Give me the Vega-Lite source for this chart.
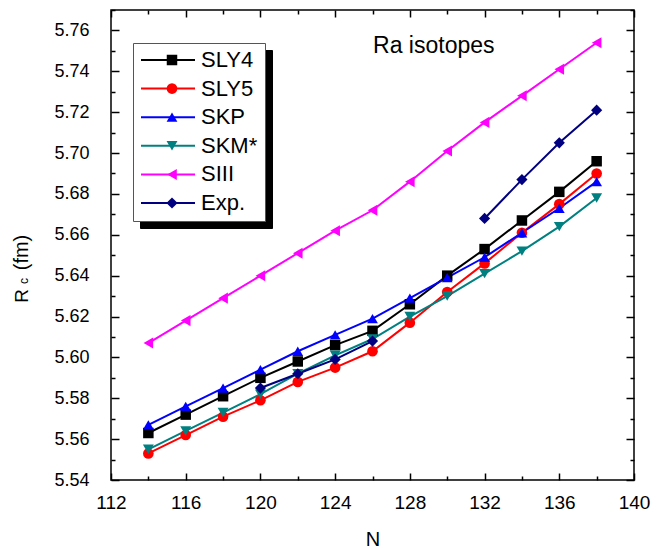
{
  "$schema": "https://vega.github.io/schema/vega-lite/v6.json",
  "width": 523,
  "height": 470,
  "autosize": "none",
  "padding": {"left": 111, "top": 10, "right": 24, "bottom": 69},
  "background": "white",
  "config": {
    "font": "Liberation Sans",
    "view": {"stroke": "black", "strokeWidth": 1.5},
    "axis": {"domain": false, "grid": false, "tickColor": "black", "tickWidth": 1.5, "labelColor": "black", "titleColor": "black", "labelFont": "Liberation Sans", "titleFont": "Liberation Sans", "titleFontWeight": "normal"}
  },
  "data": {"values": [
    {"N": 114, "model": "SLY4", "Rc": 5.563}, {"N": 116, "model": "SLY4", "Rc": 5.572}, {"N": 118, "model": "SLY4", "Rc": 5.581}, {"N": 120, "model": "SLY4", "Rc": 5.590}, {"N": 122, "model": "SLY4", "Rc": 5.598}, {"N": 124, "model": "SLY4", "Rc": 5.606}, {"N": 126, "model": "SLY4", "Rc": 5.613}, {"N": 128, "model": "SLY4", "Rc": 5.626}, {"N": 130, "model": "SLY4", "Rc": 5.640}, {"N": 132, "model": "SLY4", "Rc": 5.653}, {"N": 134, "model": "SLY4", "Rc": 5.667}, {"N": 136, "model": "SLY4", "Rc": 5.681}, {"N": 138, "model": "SLY4", "Rc": 5.696},
    {"N": 114, "model": "SLY5", "Rc": 5.553}, {"N": 116, "model": "SLY5", "Rc": 5.562}, {"N": 118, "model": "SLY5", "Rc": 5.571}, {"N": 120, "model": "SLY5", "Rc": 5.579}, {"N": 122, "model": "SLY5", "Rc": 5.588}, {"N": 124, "model": "SLY5", "Rc": 5.595}, {"N": 126, "model": "SLY5", "Rc": 5.603}, {"N": 128, "model": "SLY5", "Rc": 5.617}, {"N": 130, "model": "SLY5", "Rc": 5.632}, {"N": 132, "model": "SLY5", "Rc": 5.646}, {"N": 134, "model": "SLY5", "Rc": 5.661}, {"N": 136, "model": "SLY5", "Rc": 5.675}, {"N": 138, "model": "SLY5", "Rc": 5.690},
    {"N": 114, "model": "SKP", "Rc": 5.567}, {"N": 116, "model": "SKP", "Rc": 5.576}, {"N": 118, "model": "SKP", "Rc": 5.585}, {"N": 120, "model": "SKP", "Rc": 5.594}, {"N": 122, "model": "SKP", "Rc": 5.603}, {"N": 124, "model": "SKP", "Rc": 5.611}, {"N": 126, "model": "SKP", "Rc": 5.619}, {"N": 128, "model": "SKP", "Rc": 5.629}, {"N": 130, "model": "SKP", "Rc": 5.639}, {"N": 132, "model": "SKP", "Rc": 5.649}, {"N": 134, "model": "SKP", "Rc": 5.661}, {"N": 136, "model": "SKP", "Rc": 5.673}, {"N": 138, "model": "SKP", "Rc": 5.686},
    {"N": 114, "model": "SKM*", "Rc": 5.555}, {"N": 116, "model": "SKM*", "Rc": 5.564}, {"N": 118, "model": "SKM*", "Rc": 5.573}, {"N": 120, "model": "SKM*", "Rc": 5.582}, {"N": 122, "model": "SKM*", "Rc": 5.592}, {"N": 124, "model": "SKM*", "Rc": 5.601}, {"N": 126, "model": "SKM*", "Rc": 5.609}, {"N": 128, "model": "SKM*", "Rc": 5.620}, {"N": 130, "model": "SKM*", "Rc": 5.630}, {"N": 132, "model": "SKM*", "Rc": 5.641}, {"N": 134, "model": "SKM*", "Rc": 5.652}, {"N": 136, "model": "SKM*", "Rc": 5.664}, {"N": 138, "model": "SKM*", "Rc": 5.678},
    {"N": 114, "model": "SIII", "Rc": 5.607}, {"N": 116, "model": "SIII", "Rc": 5.618}, {"N": 118, "model": "SIII", "Rc": 5.629}, {"N": 120, "model": "SIII", "Rc": 5.640}, {"N": 122, "model": "SIII", "Rc": 5.651}, {"N": 124, "model": "SIII", "Rc": 5.662}, {"N": 126, "model": "SIII", "Rc": 5.672}, {"N": 128, "model": "SIII", "Rc": 5.686}, {"N": 130, "model": "SIII", "Rc": 5.701}, {"N": 132, "model": "SIII", "Rc": 5.715}, {"N": 134, "model": "SIII", "Rc": 5.728}, {"N": 136, "model": "SIII", "Rc": 5.741}, {"N": 138, "model": "SIII", "Rc": 5.754},
    {"N": 120, "model": "Exp.", "Rc": 5.585}, {"N": 122, "model": "Exp.", "Rc": 5.592}, {"N": 124, "model": "Exp.", "Rc": 5.599}, {"N": 126, "model": "Exp.", "Rc": 5.608}, {"N": 128, "model": "Exp.", "Rc": null}, {"N": 132, "model": "Exp.", "Rc": 5.668}, {"N": 134, "model": "Exp.", "Rc": 5.687}, {"N": 136, "model": "Exp.", "Rc": 5.705}, {"N": 138, "model": "Exp.", "Rc": 5.721}
  ]},
  "resolve": {"axis": {"x": "independent", "y": "independent"}},
  "layer": [
    {
      "transform": [{"filter": "false"}],
      "mark": {"type": "point"},
      "encoding": {
        "strokeDash": {"field": "model", "type": "nominal",
          "scale": {"domain": ["Exp.", "SIII", "SKM*", "SKP", "SLY4", "SLY5"], "range": [[1, 0], [1, 0], [1, 0], [1, 0], [1, 0], [1, 0]]},
          "legend": {"orient": "none", "legendX": 29, "legendY": 40, "title": null, "fillColor": "black", "strokeColor": "black",
            "padding": 7, "symbolType": "stroke", "symbolSize": 2916, "symbolStrokeWidth": 2, "symbolStrokeColor": "black", "symbolOffset": 0,
            "clipHeight": 20, "rowPadding": 6.6,
            "labelOffset": 5, "labelFontSize": 22, "labelColor": "black", "labelFont": "Liberation Sans", "labelLimit": 300}}
      }
    },
    {
      "mark": {"type": "line", "strokeWidth": 2, "invalid": "break-paths-filter-domains"},
      "encoding": {
        "x": {"field": "N", "type": "quantitative", "scale": {"domain": [112, 140], "nice": false, "zero": false},
          "axis": {"orient": "bottom", "values": [112, 116, 120, 124, 128, 132, 136, 140],
            "tickSize": -7,
            "labelFontSize": 19, "labelPadding": 20, "labelFlush": false, "labelOverlap": false,
            "title": "N", "titleFontSize": 20, "titlePadding": 17}},
        "y": {"field": "Rc", "type": "quantitative", "scale": {"domain": [5.54, 5.77], "nice": false, "zero": false},
          "axis": {"orient": "left", "values": [5.54, 5.56, 5.58, 5.60, 5.62, 5.64, 5.66, 5.68, 5.70, 5.72, 5.74, 5.76],
            "format": ".2f", "tickSize": -8,
            "labelFontSize": 18, "labelPadding": 30, "labelFlush": false, "labelOverlap": false,
            "title": "R", "titleFontSize": 19, "titleX": -84, "titleY": 285.5, "titleAngle": 270, "titleAlign": "center", "titleBaseline": "alphabetic"}},
        "stroke": {"field": "model", "type": "nominal",
          "scale": {"domain": ["SLY4", "SLY5", "SKP", "SKM*", "SIII", "Exp.", "_"], "range": ["#000000", "#FF0000", "#0000FF", "#008080", "#FF00FF", "#000080", "#000000"]},
          "legend": {"orient": "none", "legendX": 22, "legendY": 33, "title": null, "fillColor": "white", "strokeColor": "#555555",
            "values": ["SLY4", "SLY5", "SKP", "SKM*", "SIII", "Exp."],
            "padding": 7, "symbolType": "stroke", "symbolSize": 2916, "symbolStrokeWidth": 2, "symbolOffset": 0,
            "clipHeight": 20, "rowPadding": 6.6,
            "labelOffset": 5, "labelFontSize": 22, "labelColor": "black", "labelFont": "Liberation Sans", "labelLimit": 300}}
      }
    },
    {
      "mark": {"type": "point", "filled": true, "opacity": 1, "strokeWidth": 0},
      "encoding": {
        "x": {"field": "N", "type": "quantitative", "scale": {"domain": [112, 140], "nice": false, "zero": false}, "axis": null},
        "y": {"field": "Rc", "type": "quantitative", "scale": {"domain": [5.54, 5.77], "nice": false, "zero": false}, "axis": null},
        "fill": {"field": "model", "type": "nominal",
          "scale": {"domain": ["SLY4", "SLY5", "SKP", "SKM*", "SIII", "Exp."], "range": ["#000000", "#FF0000", "#0000FF", "#008080", "#FF00FF", "#000080"]},
          "legend": {"orient": "none", "legendX": 22, "legendY": 33, "title": null,
            "padding": 7, "symbolStrokeWidth": 0, "symbolOffset": 21, "symbolOpacity": 1,
            "clipHeight": 20, "rowPadding": 6.6,
            "labelOffset": 5, "labelFontSize": 22, "labelOpacity": 0, "labelFont": "Liberation Sans", "labelLimit": 300}},
        "shape": {"field": "model", "type": "nominal",
          "scale": {"domain": ["SLY4", "SLY5", "SKP", "SKM*", "SIII", "Exp."], "range": ["square", "circle", "triangle-up", "triangle-down", "triangle-left", "diamond"]}},
        "size": {"field": "model", "type": "nominal",
          "scale": {"domain": ["SLY4", "SLY5", "SKP", "SKM*", "SIII", "Exp."], "range": [110, 125, 180, 180, 180, 150]}}
      }
    },
    {
      "transform": [{"filter": "false"}],
      "mark": {"type": "point"},
      "encoding": {
        "x": {"field": "N", "type": "quantitative", "scale": {"domain": [112, 140], "nice": false, "zero": false},
          "axis": {"orient": "bottom", "values": [114, 118, 122, 126, 130, 134, 138], "labels": false, "title": null, "tickSize": -4}},
        "y": {"field": "Rc", "type": "quantitative", "scale": {"domain": [5.54, 5.77], "nice": false, "zero": false},
          "axis": {"orient": "left", "values": [5.55, 5.57, 5.59, 5.61, 5.63, 5.65, 5.67, 5.69, 5.71, 5.73, 5.75, 5.77], "labels": false, "tickSize": -4,
            "title": "(fm)", "titleFontSize": 20, "titleX": -84, "titleY": 242, "titleAngle": 270, "titleAlign": "center", "titleBaseline": "alphabetic"}}
      }
    },
    {
      "transform": [{"filter": "false"}],
      "mark": {"type": "point"},
      "encoding": {
        "x": {"field": "N", "type": "quantitative", "scale": {"domain": [112, 140], "nice": false, "zero": false},
          "axis": {"orient": "top", "values": [112, 116, 120, 124, 128, 132, 136, 140], "labels": false, "title": null, "tickSize": -7}},
        "y": {"field": "Rc", "type": "quantitative", "scale": {"domain": [5.54, 5.77], "nice": false, "zero": false},
          "axis": {"orient": "right", "values": [5.54, 5.56, 5.58, 5.60, 5.62, 5.64, 5.66, 5.68, 5.70, 5.72, 5.74, 5.76], "labels": false, "title": null, "tickSize": -8}}
      }
    },
    {
      "transform": [{"filter": "false"}],
      "mark": {"type": "point"},
      "encoding": {
        "x": {"field": "N", "type": "quantitative", "scale": {"domain": [112, 140], "nice": false, "zero": false},
          "axis": {"orient": "top", "values": [114, 118, 122, 126, 130, 134, 138], "labels": false, "title": null, "tickSize": -4}},
        "y": {"field": "Rc", "type": "quantitative", "scale": {"domain": [5.54, 5.77], "nice": false, "zero": false},
          "axis": {"orient": "right", "values": [5.55, 5.57, 5.59, 5.61, 5.63, 5.65, 5.67, 5.69, 5.71, 5.73, 5.75, 5.77], "labels": false, "title": null, "tickSize": -4}}
      }
    },
    {
      "transform": [{"filter": "false"}],
      "mark": {"type": "point"},
      "encoding": {
        "y": {"field": "Rc", "type": "quantitative", "scale": {"domain": [5.54, 5.77], "nice": false, "zero": false},
          "axis": {"orient": "left", "ticks": false, "labels": false, "title": "c", "titleFontSize": 12, "titleX": -84, "titleY": 270.5, "titleAngle": 270, "titleAlign": "center", "titleBaseline": "alphabetic"}}
      }
    },
    {
      "data": {"values": [{}]},
      "mark": {"type": "text", "align": "left", "baseline": "alphabetic", "fontSize": 23, "color": "black", "font": "Liberation Sans"},
      "encoding": {
        "x": {"datum": 126.03, "type": "quantitative", "axis": null},
        "y": {"datum": 5.7488, "type": "quantitative", "axis": null},
        "text": {"value": "Ra isotopes"}
      }
    }
  ]
}
